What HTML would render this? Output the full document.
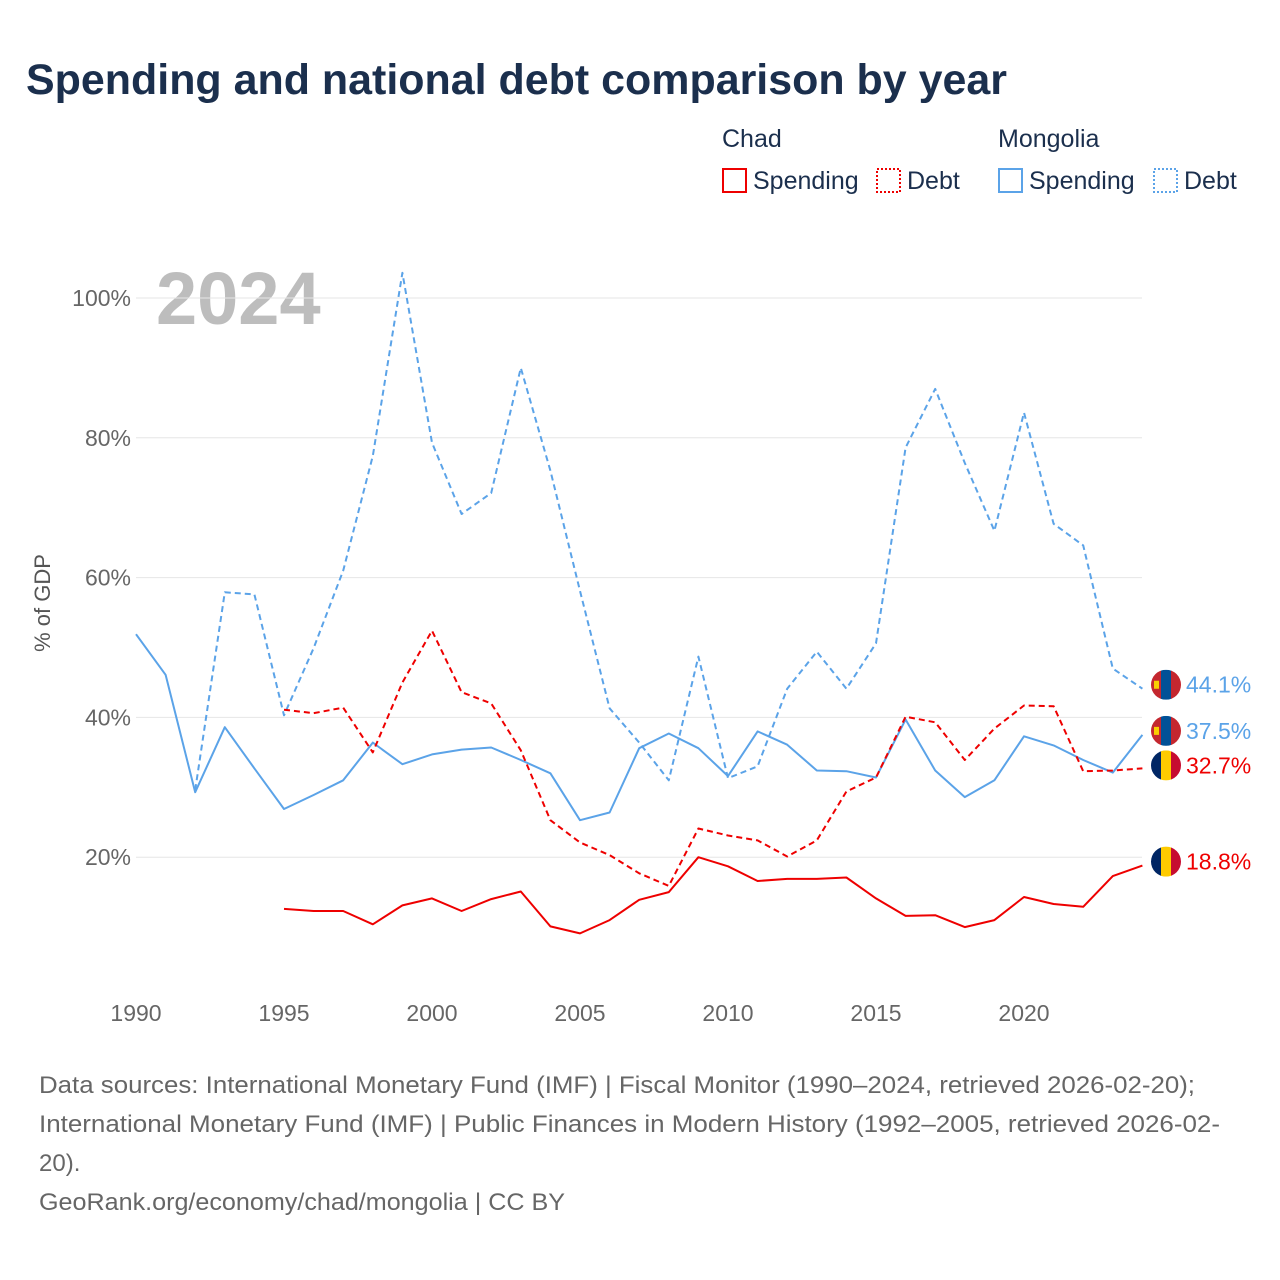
<!DOCTYPE html>
<html><head><meta charset="utf-8">
<style>
body{margin:0;background:#fff;font-family:"Liberation Sans",sans-serif;}
#wrap{position:relative;width:1280px;height:1280px;overflow:hidden;}
</style></head>
<body>
<div id="wrap">
<svg id="chart" width="1280" height="1280" xmlns="http://www.w3.org/2000/svg">
<text x="26" y="94" font-size="43" font-weight="bold" fill="#1b2f4d" textLength="981" lengthAdjust="spacingAndGlyphs">Spending and national debt comparison by year</text>
<g font-size="25" fill="#1b2f4d">
<text x="722" y="147">Chad</text>
<text x="998" y="147">Mongolia</text>
<g><rect x="723" y="169" width="23" height="23" fill="none" stroke="#e00" stroke-width="2"/><text x="753" y="189">Spending</text></g>
<g><rect x="877" y="169" width="23" height="23" fill="none" stroke="#e00" stroke-width="2" stroke-dasharray="2,2"/><text x="907" y="189">Debt</text></g>
<g><rect x="999" y="169" width="23" height="23" fill="none" stroke="#5ba3e8" stroke-width="2"/><text x="1029" y="189">Spending</text></g>
<g><rect x="1154" y="169" width="23" height="23" fill="none" stroke="#5ba3e8" stroke-width="2" stroke-dasharray="2,2"/><text x="1184" y="189">Debt</text></g>
</g>
<text x="156" y="324" font-size="74" font-weight="bold" fill="#bdbdbd">2024</text>
<text transform="translate(50,603) rotate(-90)" text-anchor="middle" font-size="22" fill="#555">% of GDP</text>
<g id="grid"></g><g id="series"></g><g id="labels"></g>
<g font-size="24" fill="#666">
<text x="39" y="1093" textLength="1156" lengthAdjust="spacingAndGlyphs">Data sources: International Monetary Fund (IMF) | Fiscal Monitor (1990–2024, retrieved 2026-02-20);</text>
<text x="39" y="1132" textLength="1181" lengthAdjust="spacingAndGlyphs">International Monetary Fund (IMF) | Public Finances in Modern History (1992–2005, retrieved 2026-02-</text>
<text x="39" y="1171">20).</text>
<text x="39" y="1210" textLength="526" lengthAdjust="spacingAndGlyphs">GeoRank.org/economy/chad/mongolia | CC BY</text>
</g>
</svg>
</div>
<script>
const years=[];for(let y=1990;y<=2024;y++)years.push(y);
const mongoliaSpending=[51.9,46.1,29.3,38.6,32.7,26.9,28.9,31,36.4,33.3,34.7,35.4,35.7,33.9,32,25.3,26.4,35.6,37.7,35.6,31.6,38,36.1,32.4,32.3,31.4,39.7,32.4,28.6,31,37.3,36,33.9,32.1,37.5];
const mongoliaDebt=[null,null,29.6,57.9,57.6,40.3,49.9,61,77.4,103.6,79.3,69.1,72.1,90,75.3,58.1,41.3,36.4,31,48.7,31.3,33,44.1,49.4,44.1,50.6,78.6,87,76.4,66.7,83.6,67.7,64.6,47,44.1];
const chadDebt=[null,null,null,null,null,41.1,40.6,41.4,35,45,52.4,43.6,42,35.3,25.3,22.1,20.3,17.7,15.9,24.1,23.1,22.4,20.1,22.4,29.4,31.4,40.1,39.3,33.9,38.4,41.7,41.6,32.3,32.4,32.7];
const chadSpending=[null,null,null,null,null,12.6,12.3,12.3,10.4,13.1,14.1,12.3,14,15.1,10.1,9.1,11,13.9,15,20,18.7,16.6,16.9,16.9,17.1,14.1,11.6,11.7,10,11,14.3,13.3,12.9,17.3,18.8];
const yTicks=[20,40,60,80,100];
const xTicks=[1990,1995,2000,2005,2010,2015,2020];
const NS="http://www.w3.org/2000/svg";
const X=y=>136+(y-1990)*29.6;
const Y=v=>997-v*6.99;
function mk(t,a,p){const e=document.createElementNS(NS,t);for(const k in a)e.setAttribute(k,a[k]);p.appendChild(e);return e;}
const grid=document.getElementById('grid');
yTicks.forEach(v=>{
 const l=mk('line',{x1:136,x2:1142,y1:Y(v),y2:Y(v),stroke:'#e6e6e6','stroke-width':1},grid);
 
 
 const t=mk('text',{x:131,y:Y(v)+8,'text-anchor':'end','font-size':23,fill:'#666'},grid);t.textContent=v+'%';
 
 
});
xTicks.forEach(v=>{
 const t=mk('text',{x:X(v),y:1021,'text-anchor':'middle','font-size':23,fill:'#666'},grid);t.textContent=v;
 
 
});
const ser=document.getElementById('series');
function line(vals,color,dash,name){
 let d='';vals.forEach((v,i)=>{if(v==null)return;d+=(d?'L':'M')+X(years[i]).toFixed(1)+','+Y(v).toFixed(1);});
 const p=mk('path',{d:d,fill:'none',stroke:color,'stroke-width':2,'stroke-dasharray':dash||'none','stroke-linejoin':'round'},ser);
 
 
}
line(mongoliaDebt,'#5ba3e8','6,4','line-mongolia-debt');
line(mongoliaSpending,'#5ba3e8',null,'line-mongolia-spending');
line(chadDebt,'#e00','6,4','line-chad-debt');
line(chadSpending,'#e00',null,'line-chad-spending');
const lab=document.getElementById('labels');
function flag(cy,cols,mong){
 const g=mk('g',{},lab);
 
 
 const cid='c'+Math.round(cy);
 const cp=mk('clipPath',{id:cid},g);mk('circle',{cx:1166,cy:cy,r:15},cp);
 cols.forEach((c,i)=>mk('rect',{x:1151+i*10,y:cy-15,width:10.5,height:30,fill:c,'clip-path':'url(#'+cid+')'},g));
 if(mong)mk('rect',{x:1154,y:cy-4,width:5,height:8,fill:'#f9cf02'},g);
}
function lbl(v,color,mong,dy){
 const cy=Y(v)+(dy||0);
 flag(cy,mong?['#c4272f','#015197','#c4272f']:['#002664','#fecb00','#c60c30'],mong);
 const t=mk('text',{x:1186,y:cy+8,'font-size':23,fill:color},lab);t.textContent=v.toFixed(1)+'%';
 
 
}
const n=years.length-1;
lbl(mongoliaDebt[n],'#5ba3e8',true,-4);
lbl(mongoliaSpending[n],'#5ba3e8',true,-4);
lbl(chadDebt[n],'#e00',false,-3);
lbl(chadSpending[n],'#e00',false,-4);
</script>
</body></html>
